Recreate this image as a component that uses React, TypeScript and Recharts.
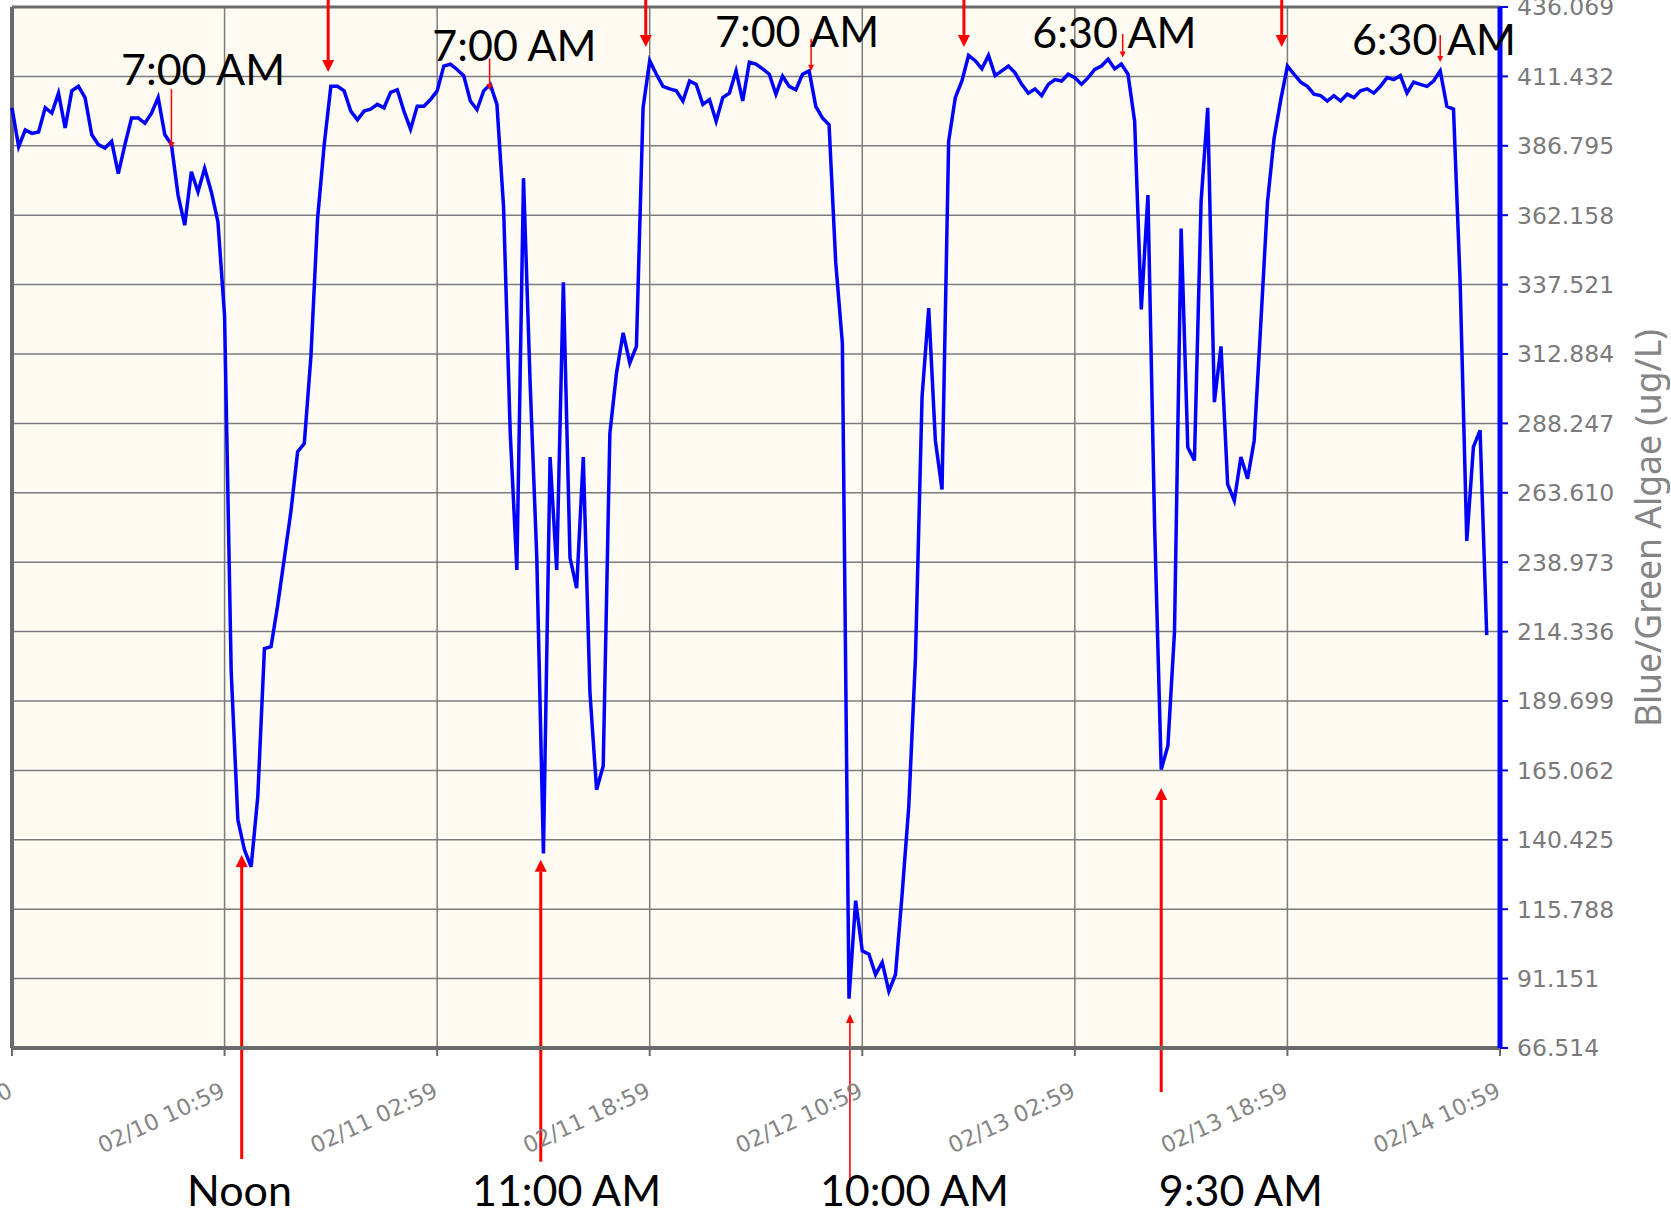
import React from 'react';
import { LineChart, Line, XAxis, YAxis, CartesianGrid, ReferenceLine, ReferenceDot } from 'recharts';

// Readings every 30 minutes, starting 02/09 19:00 (hour 0)
const SAMPLE_STEP_HOURS = 0.5;

const algaeValues = [
  400.3, 386.5, 392.4, 391.2, 391.7, 400.3, 398.4, 405.5, 393.1, 406.3,
  407.9, 403.9, 390.8, 387.2, 386.0, 388.4, 376.9, 387.2, 396.7, 396.7,
  394.8, 398.4, 403.9, 390.8, 387.2, 369.3, 358.6, 377.6, 370.5, 378.8,
  370.5, 359.8, 326.4, 200.0, 147.5, 136.8, 130.8, 155.8, 208.3, 209.0,
  223.8, 240.5, 257.2, 278.2, 281.1, 312.1, 360.9, 387.2, 407.9, 407.9,
  406.3, 399.1, 396.0, 399.1, 399.8, 401.5, 400.3, 405.8, 406.7, 399.1,
  392.7, 400.8, 400.8, 403.2, 406.3, 415.1, 415.8, 413.9, 411.7, 402.7,
  399.6, 406.3, 408.6, 401.5, 365.0, 285.0, 236.2, 375.3, 302.5, 240.5,
  135.6, 276.3, 236.2, 338.3, 240.5, 229.8, 276.3, 192.8, 158.2, 166.6,
  284.6, 306.1, 320.4, 309.7, 315.6, 400.3, 417.0, 412.2, 407.9, 407.0,
  406.3, 402.7, 409.8, 408.6, 401.5, 403.2, 395.5, 403.9, 405.5, 413.4,
  402.7, 416.5, 415.8, 414.1, 412.2, 405.1, 411.5, 407.9, 406.7, 412.2,
  413.4, 400.8, 396.7, 394.3, 345.4, 316.8, 84.0, 118.8, 101.0, 99.8,
  92.6, 96.9, 86.7, 92.6, 121.2, 152.3, 204.7, 297.7, 329.2, 282.2,
  264.8, 388.4, 403.9, 409.8, 418.9, 417.0, 414.1, 418.9, 411.7, 413.4,
  415.1, 412.7, 408.6, 405.5, 407.0, 404.6, 408.6, 410.3, 409.8, 412.2,
  411.0, 408.6, 411.0, 413.9, 415.1, 417.5, 414.1, 415.8, 412.2, 395.5,
  328.7, 369.3, 252.4, 165.4, 173.7, 214.3, 357.4, 279.8, 275.1, 366.9,
  400.3, 295.8, 315.6, 266.7, 260.8, 276.3, 268.6, 282.2, 324.0, 366.9,
  389.6, 403.2, 415.1, 412.2, 409.4, 407.9, 405.1, 404.6, 402.7, 404.6,
  402.7, 405.1, 403.9, 406.3, 407.0, 405.5, 407.9, 411.0, 410.3, 411.7,
  405.5, 409.4, 408.6, 407.9, 409.8, 413.4, 400.8, 399.8, 338.3, 246.5,
  279.9, 285.8, 213.1,
];

const xTickHours = [0, 16, 32, 48, 64, 80, 96, 112];
const xTickLabels = [
  '02/09 19:00', '02/10 10:59', '02/11 02:59', '02/11 18:59',
  '02/12 10:59', '02/13 02:59', '02/13 18:59', '02/14 10:59',
];
const yTicks = [
  66.514, 91.151, 115.788, 140.425, 165.062, 189.699, 214.336, 238.973,
  263.61, 288.247, 312.884, 337.521, 362.158, 386.795, 411.432, 436.069,
];
const Y_MIN = 66.514;
const Y_MAX = 436.069;
const X_MAX = 112;
const yAxisTitle = 'Blue/Green Algae (ug/L)';

// Annotation texts (hour, value of text baseline centre)
const topLabels = [
  { text: '7:00 AM', t: 14.38, v: 408.4 },
  { text: '7:00 AM', t: 37.82, v: 416.9 },
  { text: '7:00 AM', t: 59.09, v: 421.9 },
  { text: '6:30 AM', t: 82.98, v: 421.5 },
  { text: '6:30 AM', t: 107.03, v: 419.0 },
];
const bottomLabels = [
  { text: 'Noon', t: 17.12, v: 10.4 },
  { text: '11:00 AM', t: 41.74, v: 10.4 },
  { text: '10:00 AM', t: 67.93, v: 10.4 },
  { text: '9:30 AM', t: 92.5, v: 10.4 },
];

// Arrows: hour, tail value, tip value, style
const arrows = [
  { t: 12.0, from: 406.9, to: 386.0, kind: 'small' },
  { t: 35.95, from: 417.8, to: 406.6, kind: 'small' },
  { t: 60.15, from: 424.7, to: 413.4, kind: 'small' },
  { t: 83.6, from: 426.5, to: 418.1, kind: 'small' },
  { t: 107.5, from: 426.1, to: 416.5, kind: 'small' },
  { t: 23.8, from: 438.6, to: 413.0, kind: 'thick' },
  { t: 47.7, from: 438.6, to: 421.9, kind: 'thick' },
  { t: 71.65, from: 438.6, to: 421.9, kind: 'thick' },
  { t: 95.57, from: 438.6, to: 421.9, kind: 'thick' },
  { t: 17.29, from: 27.1, to: 135.0, kind: 'thick' },
  { t: 39.8, from: 26.1, to: 133.3, kind: 'thick' },
  { t: 63.07, from: 19.7, to: 78.6, kind: 'thin' },
  { t: 86.5, from: 50.9, to: 158.8, kind: 'thick' },
];

const arrowStyles: Record<string, { w: number; len: number; half: number }> = {
  small: { w: 1.5, len: 6, half: 3 },
  thin: { w: 1.6, len: 9, half: 4 },
  thick: { w: 3, len: 12, half: 6 },
};

const data = algaeValues.map((v, i) => ({ t: i * SAMPLE_STEP_HOURS, v }));

const makeArrowShape = (kind: string, headDown: boolean) => (p: any) => {
  const s = arrowStyles[kind];
  const x = p.x1;
  const yA = Math.min(p.y1, p.y2);
  const yB = Math.max(p.y1, p.y2);
  const tipY = headDown ? yB : yA;
  const tailY = headDown ? yA : yB;
  const baseY = headDown ? tipY - s.len : tipY + s.len;
  return (
    <g>
      <line x1={x} y1={tailY} x2={x} y2={baseY} stroke="#ff0000" strokeWidth={s.w} />
      <polygon
        points={`${x - s.half},${baseY} ${x + s.half},${baseY} ${x},${tipY}`}
        fill="#ff0000"
      />
    </g>
  );
};

const makeTextShape = (text: string) => (p: any) => (
  <text
    x={p.cx}
    y={p.cy}
    textAnchor="middle"
    fill="#000000"
    fontFamily="Lato, 'Noto Sans', sans-serif"
    fontSize={43}
  >
    {text}
  </text>
);

const yTitleShape = (p: any) => (
  <text
    x={p.cx}
    y={p.cy}
    textAnchor="middle"
    dominantBaseline="central"
    transform={`rotate(-90 ${p.cx} ${p.cy})`}
    fill="#858585"
    fontFamily="'Noto Sans', sans-serif"
    fontSize={35.5}
  >
    {yAxisTitle}
  </text>
);

const XTick = (props: any) => {
  const { x, y, payload } = props;
  const idx = xTickHours.indexOf(payload.value);
  const ax = x + 2;
  const ay = y + 40;
  return (
    <text
      x={ax}
      y={ay}
      textAnchor="end"
      transform={`rotate(-25 ${ax} ${ay})`}
      fill="#858585"
      fontFamily="'DejaVu Sans', sans-serif"
      fontSize={22.5}
    >
      {xTickLabels[idx]}
    </text>
  );
};

export default function App() {
  return (
    <div style={{ position: 'absolute', left: 0, top: 0, width: 1671, height: 1218, background: '#ffffff' }}>
      <LineChart width={1671} height={1218} data={data} margin={{ top: 7, right: 0, bottom: 0, left: 12 }}>
        <CartesianGrid stroke="#7c7c7c" strokeWidth={1.5} fill="#fdfbf2" fillOpacity={1} />
        <XAxis
          dataKey="t"
          type="number"
          domain={[0, X_MAX]}
          ticks={xTickHours}
          interval={0}
          height={170}
          axisLine={{ stroke: '#6a6a6a', strokeWidth: 4 }}
          tickLine={{ stroke: '#6a6a6a', strokeWidth: 2 }}
          tickSize={8}
          tickMargin={0}
          tick={<XTick />}
        />
        <YAxis
          orientation="right"
          type="number"
          domain={[Y_MIN, Y_MAX]}
          ticks={yTicks}
          interval={0}
          width={171}
          axisLine={{ stroke: '#0000ff', strokeWidth: 5 }}
          tickLine={{ stroke: '#0000ff', strokeWidth: 2 }}
          tickSize={8}
          tickMargin={9}
          tickFormatter={(v: number) => v.toFixed(3)}
          tick={{ fill: '#7a7a7a', fontSize: 23.5, fontFamily: "'DejaVu Sans', sans-serif" }}
        />
        <ReferenceLine x={0} stroke="#6a6a6a" strokeWidth={4} />
        <ReferenceLine y={Y_MAX} stroke="#6a6a6a" strokeWidth={3} />
        <Line
          type="linear"
          dataKey="v"
          stroke="#0000ff"
          strokeWidth={3.5}
          dot={false}
          activeDot={false}
          isAnimationActive={false}
        />
        {arrows.map((a, i) => (
          <ReferenceLine
            key={`arr${i}`}
            segment={[{ x: a.t, y: a.from }, { x: a.t, y: a.to }]}
            ifOverflow="visible"
            stroke="#ff0000"
            shape={makeArrowShape(a.kind, a.to < a.from)}
          />
        ))}
        {topLabels.concat(bottomLabels).map((l, i) => (
          <ReferenceDot
            key={`lbl${i}`}
            x={l.t}
            y={l.v}
            r={1}
            ifOverflow="visible"
            shape={makeTextShape(l.text)}
          />
        ))}
        <ReferenceDot x={123.06} y={251.1} r={1} ifOverflow="visible" shape={yTitleShape} />
      </LineChart>
    </div>
  );
}
